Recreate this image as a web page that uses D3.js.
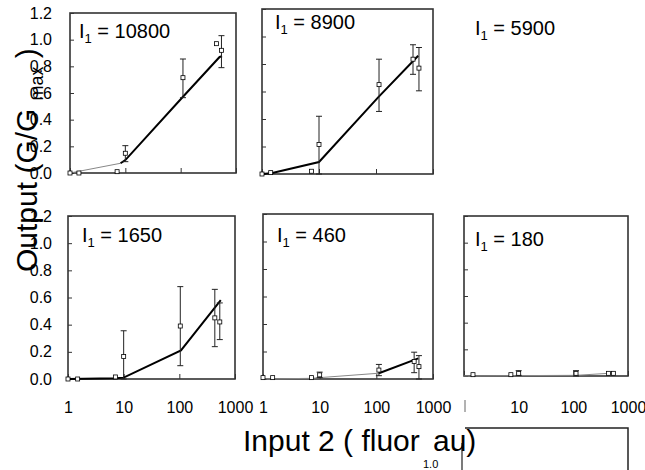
<!DOCTYPE html>
<html>
<head>
<meta charset="utf-8">
<script src="https://cdn.jsdelivr.net/npm/d3@7"></script>
<style>
  body { margin: 0; background: #fff; }
  svg text { font-family: "Liberation Sans", Arial, sans-serif; }
</style>
</head>
<body>
<svg id="chart" width="645" height="470"></svg>
<script>
// panel labels (I1 values)
const panelTitles = ["10800", "8900", "5900", "1650", "460", "180"];
const xTicks = [1, 10, 100, 1000];
const xTickLabels = ["1", "10", "100", "1000"];
const yTicks = [0, 0.2, 0.4, 0.6, 0.8, 1.0, 1.2];
const yTickLabels = ["0.0", "0.2", "0.4", "0.6", "0.8", "1.0", "1.2"];

// measured points: x, y, error low/high (null = no bar)
const x10800 = [1, 1.45, 7.1, 10, 110, 446, 546];
const y10800 = [0, 0, 0.01, 0.148, 0.715, 0.97, 0.92];
const lo10800 = [null, null, null, 0.085, 0.565, null, 0.79];
const hi10800 = [null, null, null, 0.205, 0.855, null, 1.03];

const x8900 = [1, 1.42, 7.4, 10, 113, 446, 567];
const y8900 = [0, 0.01, 0.02, 0.215, 0.65, 0.835, 0.77];
const lo8900 = [null, null, null, 0, 0.455, 0.725, 0.605];
const hi8900 = [null, null, null, 0.42, 0.835, 0.94, 0.92];

const x1650 = [1, 1.49, 7.1, 10, 104, 434, 533];
const y1650 = [0, 0, 0.015, 0.165, 0.39, 0.45, 0.42];
const lo1650 = [null, null, null, 0, 0.098, 0.238, 0.29];
const hi1650 = [null, null, null, 0.355, 0.68, 0.66, 0.56];

const x460 = [1, 1.48, 7.2, 10, 111, 465, 565];
const y460 = [0.01, 0.01, 0.01, 0.03, 0.065, 0.127, 0.09];
const lo460 = [null, null, null, 0.01, 0.024, 0.046, 0];
const hi460 = [null, null, null, 0.05, 0.106, 0.195, 0.17];

const x180 = [1.46, 7.2, 10, 112, 440, 540];
const y180 = [0.01, 0.01, 0.02, 0.02, 0.02, 0.02];
const lo180 = [null, null, 0.005, 0, null, null];
const hi180 = [null, null, 0.04, 0.04, null, null];

// model curves; segments from thickFrom onward are drawn heavy
const fitX10800 = [1, 8.2, 10, 109, 505, 560];
const fitY10800 = [0, 0.073, 0.097, 0.57, 0.87, 0.875];
const fitX8900 = [1, 1.45, 10, 109, 550];
const fitY8900 = [0, 0.005, 0.087, 0.557, 0.86];
const fitX1650 = [1, 7.1, 10, 107, 555];
const fitY1650 = [0, 0.005, 0.01, 0.21, 0.58];
const fitX460 = [1, 7.2, 10, 111, 550];
const fitY460 = [0, 0.005, 0.01, 0.042, 0.15];
const fitX180 = [1, 10, 112, 440, 540];
const fitY180 = [0, 0.003, 0.005, 0.02, 0.022];

const svg = d3.select("#chart");

// frame boxes of each panel (layout only)
let panels = [
  {title: panelTitles[0], box: [70, 13, 236, 173], tx: 79, ty: 38, yLab: true, xLab: false,
   x: x10800, y: y10800, lo: lo10800, hi: hi10800, fx: fitX10800, fy: fitY10800, thickFrom: 1},
  {title: panelTitles[1], box: [262, 9, 433, 174], tx: 275, ty: 29, yLab: false, xLab: false,
   x: x8900, y: y8900, lo: lo8900, hi: hi8900, fx: fitX8900, fy: fitY8900, thickFrom: 0},
  {title: panelTitles[2], box: null, tx: 475, ty: 35},
  {title: panelTitles[3], box: [68, 216, 235, 379], tx: 82, ty: 242, yLab: true, xLab: true,
   x: x1650, y: y1650, lo: lo1650, hi: hi1650, fx: fitX1650, fy: fitY1650, thickFrom: 0},
  {title: panelTitles[4], box: [263, 214, 433, 379], tx: 277, ty: 242, yLab: false, xLab: true,
   x: x460, y: y460, lo: lo460, hi: hi460, fx: fitX460, fy: fitY460, thickFrom: 3},
  {title: panelTitles[5], box: [464, 216, 628, 376], tx: 475, ty: 246, yLab: false, xLab: true, noOne: true,
   x: x180, y: y180, lo: lo180, hi: hi180, fx: fitX180, fy: fitY180, thickFrom: 99}
];

function drawTitle(p) {
  let t = svg.append("text")
    .attr("x", p.tx).attr("y", p.ty)
    .attr("font-size", 20).attr("fill", "#000");
  t.append("tspan").text("I");
  t.append("tspan").attr("font-size", 13).attr("dy", 5).text("1");
  t.append("tspan").attr("dy", -5).text(" = " + p.title);
}

function drawPanel(p) {
  let [l, t, r, b] = p.box;
  let xScale = d3.scaleLog().domain([1, 1000]).range([l, r]);
  let yScale = d3.scaleLinear().domain([0, 1.2]).range([b, t]);
  let g = svg.append("g");

  // frame
  g.append("rect")
    .attr("x", l).attr("y", t).attr("width", r - l).attr("height", b - t)
    .attr("fill", "none").attr("stroke", "#333").attr("stroke-width", 1.6);

  // y axis (ticks point inward)
  let yAxis = d3.axisLeft(yScale).tickValues(yTicks).tickSize(-4)
    .tickPadding(l - 52)
    .tickFormat((d, i) => p.yLab ? yTickLabels[i] : "");
  let ya = g.append("g").attr("transform", "translate(" + l + ",0)").call(yAxis);
  ya.select(".domain").remove();
  ya.selectAll("line").attr("stroke", "#333");
  ya.selectAll("text").attr("font-size", 16).attr("fill", "#000")
    .attr("font-family", "Liberation Sans, Arial, sans-serif");

  // x axis
  let xAxis = d3.axisBottom(xScale).tickValues(xTicks).tickSize(-5)
    .tickPadding(p.noOne ? 26 : 23)
    .tickFormat((d, i) => (p.xLab && !(p.noOne && i == 0)) ? xTickLabels[i] : "");
  let xa = g.append("g").attr("transform", "translate(0," + b + ")").call(xAxis);
  xa.select(".domain").remove();
  xa.selectAll("line").attr("stroke", "#333");
  xa.selectAll("text").attr("font-size", 16).attr("fill", "#000")
    .attr("font-family", "Liberation Sans, Arial, sans-serif");
  if (p.noOne) {
    g.append("line")
      .attr("x1", xScale(1) + 1).attr("x2", xScale(1) + 1)
      .attr("y1", b + 24).attr("y2", b + 36)
      .attr("stroke", "#666").attr("stroke-width", 1);
  }

  // model curve: thin grey part, then heavy black part
  let fit = p.fx.map((d, i) => ({x: d, y: p.fy[i]}));
  let line = d3.line().x(d => xScale(d.x)).y(d => yScale(d.y));
  let k = Math.min(p.thickFrom, fit.length - 1);
  g.append("path").datum(fit.slice(0, k + 1))
    .attr("d", line).attr("fill", "none")
    .attr("stroke", "#888").attr("stroke-width", 1);
  if (p.thickFrom < fit.length - 1) {
    g.append("path").datum(fit.slice(k))
      .attr("d", line).attr("fill", "none")
      .attr("stroke", "#000").attr("stroke-width", 2);
  }

  // error bars
  let pts = p.x.map((d, i) => ({x: d, y: p.y[i], lo: p.lo[i], hi: p.hi[i]}));
  let bars = g.selectAll(".err").data(pts.filter(d => d.lo != null))
    .enter().append("g").attr("class", "err");
  bars.append("line")
    .attr("x1", d => xScale(d.x)).attr("x2", d => xScale(d.x))
    .attr("y1", d => yScale(d.lo)).attr("y2", d => yScale(d.hi))
    .attr("stroke", "#222").attr("stroke-width", 1);
  bars.append("line")
    .attr("x1", d => xScale(d.x) - 3).attr("x2", d => xScale(d.x) + 3)
    .attr("y1", d => yScale(d.hi)).attr("y2", d => yScale(d.hi))
    .attr("stroke", "#222").attr("stroke-width", 1);
  bars.append("line")
    .attr("x1", d => xScale(d.x) - 3).attr("x2", d => xScale(d.x) + 3)
    .attr("y1", d => yScale(d.lo)).attr("y2", d => yScale(d.lo))
    .attr("stroke", "#222").attr("stroke-width", 1);

  // open square markers
  g.selectAll(".pt").data(pts).enter().append("rect")
    .attr("class", "pt")
    .attr("x", d => xScale(d.x) - 2).attr("y", d => yScale(d.y) - 2)
    .attr("width", 4).attr("height", 4)
    .attr("fill", "#fff").attr("stroke", "#000").attr("stroke-width", 0.8);
}

panels.forEach(p => {
  if (p.box) drawPanel(p);
  drawTitle(p);
});

// stray pieces of another axis at the bottom right
svg.append("path")
  .attr("d", "M465,428H628V470")
  .attr("fill", "none").attr("stroke", "#222").attr("stroke-width", 1.5);
svg.append("line")
  .attr("x1", 462).attr("x2", 462).attr("y1", 443).attr("y2", 470)
  .attr("stroke", "#222").attr("stroke-width", 1.2);
svg.append("text")
  .attr("x", 423).attr("y", 467.5)
  .attr("font-size", 11).attr("fill", "#000").text("1.0");

// axis titles
svg.append("text")
  .attr("x", 243).attr("y", 451)
  .attr("font-size", 30).attr("fill", "#000")
  .text("Input 2 ( fluor");
svg.append("text")
  .attr("x", 433).attr("y", 451)
  .attr("font-size", 30).attr("fill", "#000")
  .text("au)");

let yt = svg.append("text")
  .attr("transform", "translate(37,272) rotate(-90)")
  .attr("font-size", 30).attr("fill", "#000");
yt.append("tspan").text("Output (G/G");
yt.append("tspan").attr("font-size", 18).attr("dy", 6).attr("dx", 8).text("max");
yt.append("tspan").attr("dy", -6).text(" )");
</script>
</body>
</html>
